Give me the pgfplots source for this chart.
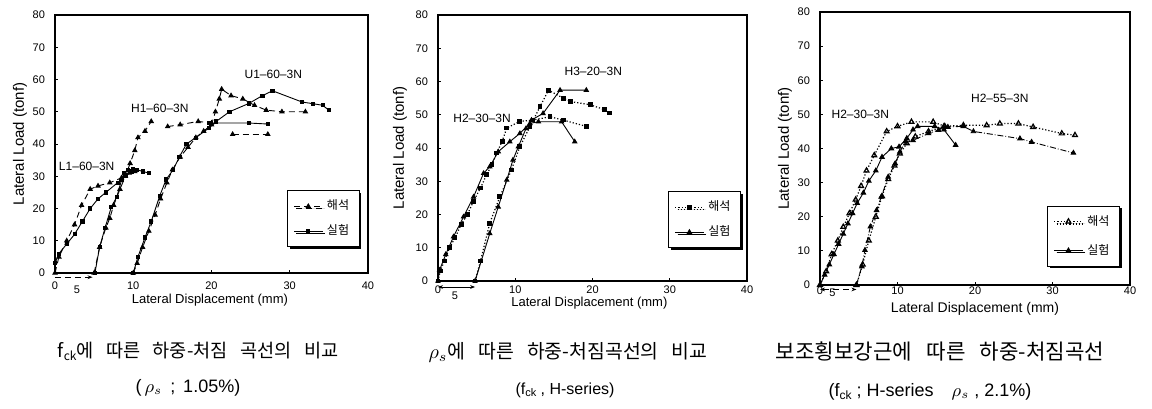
\documentclass[border=0pt]{standalone}
\usepackage{fontspec}
\usepackage{pgfplots}
\pgfplotsset{compat=1.18}
\usetikzlibrary{shadows,arrows.meta}
\setmainfont{Liberation Sans}
\newfontfamily\kr{Noto Sans CJK KR}[WordSpace=3]

\tikzset{lab/.style={font=\fontsize{6}{7}\selectfont}}
\pgfplotsset{
  panel/.style={
    scale only axis, anchor=south west, clip=false,
    xmin=0, xmax=40, ymin=0, ymax=80,
    xtick={0,10,20,30,40}, ytick={0,10,...,80},
    tick align=inside, tick pos=left, major tick length=1.5pt,
    axis line style={line width=0.8pt},
    every tick/.style={black, line width=0.5pt},
    ticklabel style={font=\fontsize{5.5}{6}\selectfont},
    yticklabel style={xshift=-1.5pt},
    /pgf/number format/assume math mode=true,
    xlabel={Lateral Displacement (mm)},
    ylabel={Lateral Load (tonf)},
    legend cell align=left,
    legend style={font=\kr\fontsize{6}{7}\selectfont, draw=black,
      line width=0.4pt, anchor=south west,
      general shadow={fill=black, shadow xshift=1.2pt, shadow yshift=-1.2pt},
      inner xsep=3pt, inner ysep=2.5pt, row sep=2pt},
    legend image code/.code={\draw[mark repeat=2,mark phase=2,#1]
      plot coordinates {(0cm,0cm)(0.25cm,0cm)(0.5cm,0cm)};},
  },
  ana/.style={black, densely dashed, line width=0.45pt, mark=triangle*,
    mark size=1.2pt, mark options={solid}},
  exp/.style={black, solid, line width=0.45pt, mark=square*,
    mark size=0.8pt},
}

\begin{document}
\begin{tikzpicture}
\useasboundingbox (0,0) rectangle (576pt,204pt);

% ---------- panel 1 ----------
\begin{axis}[panel, at={(27.5pt,67.5pt)}, width=156.5pt, height=129pt,
  xlabel style={font=\fontsize{6.5}{7}\selectfont, at={(axis description cs:0.495,-0.105)}, anchor=center},
  ylabel style={font=\fontsize{7.5}{8}\selectfont, at={(axis description cs:-0.112,0.5)}, anchor=center},
  xticklabel style={yshift=-1pt},
  legend style={at={(axis description cs:0.742,0.10)}}]
\addplot[ana] coordinates {(0,0)(0.5,5)(1.5,10)(2.5,15)(3.4,21)(4.5,26)(5.5,27)(7,28)(8.5,29.5)(9.5,31)(10.2,31.5)};
\addlegendentry{해석}
\addplot[exp] coordinates {(0,3)(0.5,6)(1.5,9)(2.5,12)(3.5,16)(4.5,20)(5.5,23)(6.5,25)(8,28)(9,30)(9.8,31.5)(10.5,32)(11.2,31.5)(12,31)};
\addlegendentry{실험}
\addplot[ana, forget plot] coordinates {(5,0)(5.7,8)(6.5,14)(7,17)(7.5,21)(8.3,26)(9,30)(9.6,34)(10.2,38)(10.6,42)(11.5,44)(12.3,47)};
\addplot[exp, forget plot] coordinates {(5.1,0)(5.7,8)(6.4,14)(7.2,20.5)(7.9,23.6)(8.5,28.8)(8.8,31)(9.3,32)(10,32.2)};
\addplot[ana, forget plot] coordinates {(14.4,45.4)(16,46)(18.3,47)(20,46.5)};
\addplot[ana, forget plot] coordinates {(22.7,43)(27.2,43)};
\addplot[exp, forget plot] coordinates {(19.7,46.5)(24.8,46.5)(27.2,46.2)};
\addplot[ana, forget plot] coordinates {(10,0)(10.5,3)(11.2,8)(12,13)(12.8,18)(13.5,23)(14.3,28)(15,32)(16,36)(17,39)(18,42)(19,44)(20,46)(20.5,50)(21,54)(21.3,57)(22.5,55)(24,54)(25.5,52)(27,50.5)(29,50)(32,50)};
\addplot[exp, forget plot] coordinates {(10,0)(10.6,5)(11.5,11)(12.3,16)(13.4,24)(14.2,29)(15.1,32)(15.9,36)(16.8,40)(18,42)(19.7,45)(20.6,47)(22.3,50)(24.8,52.6)(26.5,55)(27.8,56.5)(31.6,53)(33,52.5)(34.2,52)(35,50.5)};
\node[lab] at (axis cs:4.05,33) {L1--60--3N};
\node[lab] at (axis cs:13.4,51) {H1--60--3N};
\node[lab] at (axis cs:27.9,61.7) {U1--60--3N};
\draw[-{Stealth[length=2.5pt]}, densely dashed, line width=0.4pt] (axis cs:0,-1.3) -- (axis cs:4.8,-1.3);
\node[font=\fontsize{5.5}{6}\selectfont] at (axis cs:2.8,-5.3) {5};
\end{axis}

% ---------- panel 2 ----------
\begin{axis}[panel, at={(219pt,63.5pt)}, width=154.5pt, height=133pt,
  xlabel style={font=\fontsize{6.5}{7}\selectfont, at={(axis description cs:0.49,-0.085)}, anchor=center},
  ylabel style={font=\fontsize{7.5}{8}\selectfont, at={(axis description cs:-0.123,0.5)}, anchor=center},
  xticklabel style={yshift=1pt},
  legend style={at={(axis description cs:0.745,0.124)}}]
\addplot[black, densely dotted, line width=0.6pt, mark=square*, mark size=0.9pt, mark options={solid}] coordinates {(0,0)(0.3,3)(0.8,6)(1.5,10)(2.2,13)(3,17)(3.8,20)(4.6,24)(5.5,28)(6.3,32)(7,35)(7.6,38.5)(8.3,42)(8.9,46)(10.6,48)(12.3,48.4)(14.5,49.4)(16.2,48.4)(19.2,46.5)};
\addlegendentry{해석}
\addplot[black, line width=0.45pt, mark=triangle*, mark size=1.2pt] coordinates {(0,0)(0.2,3.3)(1,8)(2,13.3)(3.3,19.3)(4.6,25.3)(5.9,32.4)(6.7,34.4)(7.8,38.9)(9.3,41.9)(10.6,44.4)(11.9,47.4)(13,47.9)(16,47.9)(17.7,41.9)};
\addlegendentry{실험}
\addplot[black, densely dotted, line width=0.6pt, mark=square*, mark size=0.9pt, mark options={solid}, forget plot] coordinates {(4.8,0)(5.5,6)(6.7,17.4)(8,25.3)(9.5,33.4)(10.6,40.4)(11.9,46.4)(13.2,52.4)(14.3,57.4)(16.2,55)(17.1,54)(19.7,53)(21.6,51.5)(22.2,50.5)};
\addplot[black, line width=0.45pt, mark=triangle*, mark size=1.2pt, forget plot] coordinates {(4.8,0)(6.7,14.3)(7.8,22.3)(8.9,30.4)(9.7,36.4)(10.4,40.4)(11.4,45.9)(12.1,48.4)(13.6,50.4)(15.8,57.4)(19.2,57.4)};
\node[lab] at (axis cs:5.7,48.9) {H2--30--3N};
\node[lab] at (axis cs:20.1,62.9) {H3--20--3N};
\draw[{Stealth[length=2.5pt]}-{Stealth[length=2.5pt]}, line width=0.4pt] (axis cs:0,-1.8) -- (axis cs:4.8,-1.8);
\node[font=\fontsize{5.5}{6}\selectfont] at (axis cs:2.2,-4.3) {5};
\end{axis}

% ---------- panel 3 ----------
\begin{axis}[panel, at={(410pt,61.5pt)}, width=155pt, height=136.5pt,
  xlabel style={font=\fontsize{7}{8}\selectfont, at={(axis description cs:0.5,-0.088)}, anchor=center},
  ylabel style={font=\fontsize{7.5}{8}\selectfont, at={(axis description cs:-0.113,0.5)}, anchor=center},
  xticklabel style={yshift=2.5pt},
  legend style={at={(axis description cs:0.733,0.068)}, row sep=4pt}]
\addplot[black, densely dotted, line width=0.6pt, mark=triangle, mark size=1.4pt, mark options={solid}] coordinates {(0,0)(0.8,4)(1.5,9)(2.3,13)(3,17)(3.8,21)(4.6,25)(5.3,29)(6,33.5)(7,38)(8.6,45)(10,46.5)(11.8,47.8)(14.6,47.8)(16.1,46.5)};
\addlegendentry{해석}
\addplot[black, line width=0.45pt, mark=triangle*, mark size=1.3pt] coordinates {(0,0)(0.6,3)(1.2,6)(1.8,9)(2.4,12)(3,15)(3.6,18)(4.2,21)(4.8,24)(5.6,27)(6.3,30.5)(7.2,33.5)(8,37.5)(9.2,40)(10.2,40.5)(11.2,43)(12,45.5)(12.6,46.5)(14.8,46.5)(16,45.5)(17.5,41)};
\addlegendentry{실험}
\addplot[black, densely dotted, line width=0.6pt, mark=triangle, mark size=1.4pt, mark options={solid}, forget plot] coordinates {(4.7,0)(5.5,6)(6.3,13)(7.2,20)(8,26)(8.8,31)(9.6,35)(10.3,38.5)(11.2,41.5)(12.3,43.5)(14,45)(16,46.5)(18.5,46.8)(21.5,46.8)(23.2,47.3)(25.6,47.3)(27.5,46.3)(31.2,44.4)(32.9,43.9)};
\addplot[black, densely dashdotted, line width=0.45pt, mark=triangle*, mark size=1.3pt, mark options={solid}, forget plot] coordinates {(4.7,0)(5.4,5.4)(5.8,10.2)(6.5,17.1)(7.3,21.9)(7.9,25.8)(8.8,31.7)(9.7,35.6)(10.3,39)(11,42)(12,42.4)(14,44.4)(15.3,45.4)(16.5,46.3)(18.5,46.5)(19.8,45)(25.8,42.9)(27.3,41.9)(32.7,38.7)};
\node[lab] at (axis cs:5.2,50) {H2--30--3N};
\node[lab] at (axis cs:23.2,54.6) {H2--55--3N};
\draw[{Stealth[length=2.5pt]}-{Stealth[length=2.5pt]}, densely dashed, line width=0.4pt] (axis cs:0,-1.3) -- (axis cs:4.7,-1.3);
\node[font=\fontsize{5.5}{6}\selectfont] at (axis cs:1.6,-2.4) {5};
\end{axis}

% ---------- captions ----------
\node at (99pt,28.5pt) {\kr\fontsize{9.3}{11}\selectfont f\raisebox{-0.3ex}{\fontsize{6}{6}\selectfont ck}에 따른 하중-처짐 곡선의 비교};
\node at (94pt,10pt) {\fontsize{9}{10}\selectfont (\,$\rho_s$\, ;\, 1.05\%)};
\node at (284pt,28pt) {\kr\fontsize{9.7}{11}\selectfont $\rho_s$에 따른 하중-처짐곡선의 비교};
\node at (282.5pt,9pt) {\fontsize{8}{9}\selectfont (f\raisebox{-0.3ex}{\fontsize{5.5}{6}\selectfont ck} , H-series)};
\node at (470pt,28.5pt) {\kr\fontsize{10.6}{12}\selectfont 보조횡보강근에 따른 하중-처짐곡선};
\node at (465pt,8pt) {\fontsize{9}{10}\selectfont (f\raisebox{-0.3ex}{\fontsize{6}{6}\selectfont ck} ; H-series\quad $\rho_s$ , 2.1\%)};
\end{tikzpicture}
\end{document}
